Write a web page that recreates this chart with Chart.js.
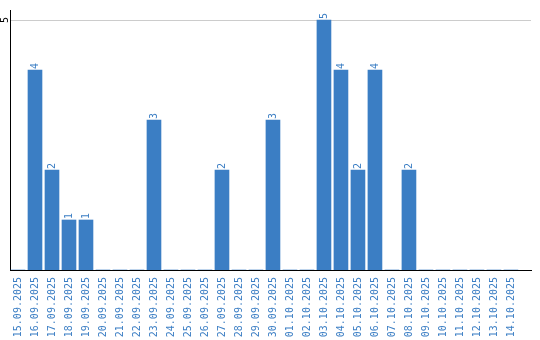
<!DOCTYPE html>
<html>
<head>
<meta charset="utf-8">
<script src="https://cdn.jsdelivr.net/npm/chart.js@4/dist/chart.umd.min.js"></script>
<style>
html,body{margin:0;padding:0;background:#fff;}
#wrap{width:540px;height:340px;position:relative;}
</style>
</head>
<body>
<div id="wrap"><canvas id="c" width="540" height="340"></canvas></div>
<script>
const categories = ["15.09.2025","16.09.2025","17.09.2025","18.09.2025","19.09.2025","20.09.2025","21.09.2025","22.09.2025","23.09.2025","24.09.2025","25.09.2025","26.09.2025","27.09.2025","28.09.2025","29.09.2025","30.09.2025","01.10.2025","02.10.2025","03.10.2025","04.10.2025","05.10.2025","06.10.2025","07.10.2025","08.10.2025","09.10.2025","10.10.2025","11.10.2025","12.10.2025","13.10.2025","14.10.2025"];
const values = [0,4,2,1,1,0,0,0,3,0,0,0,2,0,0,3,0,0,5,4,2,4,0,2,0,0,0,0,0,0];
const yTicks = [5];

const BLUE = '#3b7ec4';
const FONT = '"DejaVu Sans Mono", monospace';

const labelPlugin = {
  id: 'labels',
  afterDatasetsDraw(chart) {
    const ctx = chart.ctx;
    const meta = chart.getDatasetMeta(0);
    ctx.save();
    ctx.font = '10px ' + FONT;
    ctx.fillStyle = BLUE;
    ctx.textBaseline = 'middle';
    ctx.textAlign = 'left';
    meta.data.forEach((bar, i) => {
      if (!values[i]) return;
      ctx.save();
      ctx.translate(bar.x, bar.y - 1);
      ctx.rotate(-Math.PI / 2);
      ctx.fillText(String(values[i]), 0, 0);
      ctx.restore();
    });
    const ys = chart.scales.y;
    ctx.fillStyle = '#000';
    ctx.textAlign = 'center';
    ctx.textBaseline = 'middle';
    yTicks.forEach(t => {
      ctx.save();
      ctx.translate(5, ys.getPixelForValue(t));
      ctx.rotate(-Math.PI / 2);
      ctx.fillText(String(t), 0, 0);
      ctx.restore();
    });
    ctx.restore();
  }
};

new Chart(document.getElementById('c'), {
  type: 'bar',
  data: {
    datasets: [{
      data: values.map((v, i) => ({x: i, y: v})),
      backgroundColor: BLUE,
      barThickness: 14
    }]
  },
  options: {
    responsive: false,
    animation: false,
    layout: {padding: {left: 10, right: 9, top: 10, bottom: 0}},
    plugins: {legend: {display: false}, tooltip: {enabled: false}},
    scales: {
      x: {
        type: 'linear',
        offset: false,
        min: -0.47,
        max: 30.18,
        afterBuildTicks(scale) { scale.ticks = categories.map((_, i) => ({value: i})); },
        afterFit(scale) { scale.height = 70; },
        grid: {display: false, drawTicks: false, tickLength: 0},
        border: {display: true, color: '#000', width: 1},
        ticks: {
          autoSkip: false,
          minRotation: 90,
          maxRotation: 90,
          padding: 7,
          color: BLUE,
          font: {family: FONT, size: 10},
          callback: (v) => categories[v] !== undefined ? categories[v] : ''
        }
      },
      y: {
        min: 0,
        max: 5.2,
        afterBuildTicks(scale) { scale.ticks = yTicks.map(v => ({value: v})); },
        grid: {color: '#cccccc', drawTicks: false},
        border: {display: true, color: '#000', width: 1},
        ticks: {display: false}
      }
    }
  },
  plugins: [labelPlugin]
});
</script>
</body>
</html>
